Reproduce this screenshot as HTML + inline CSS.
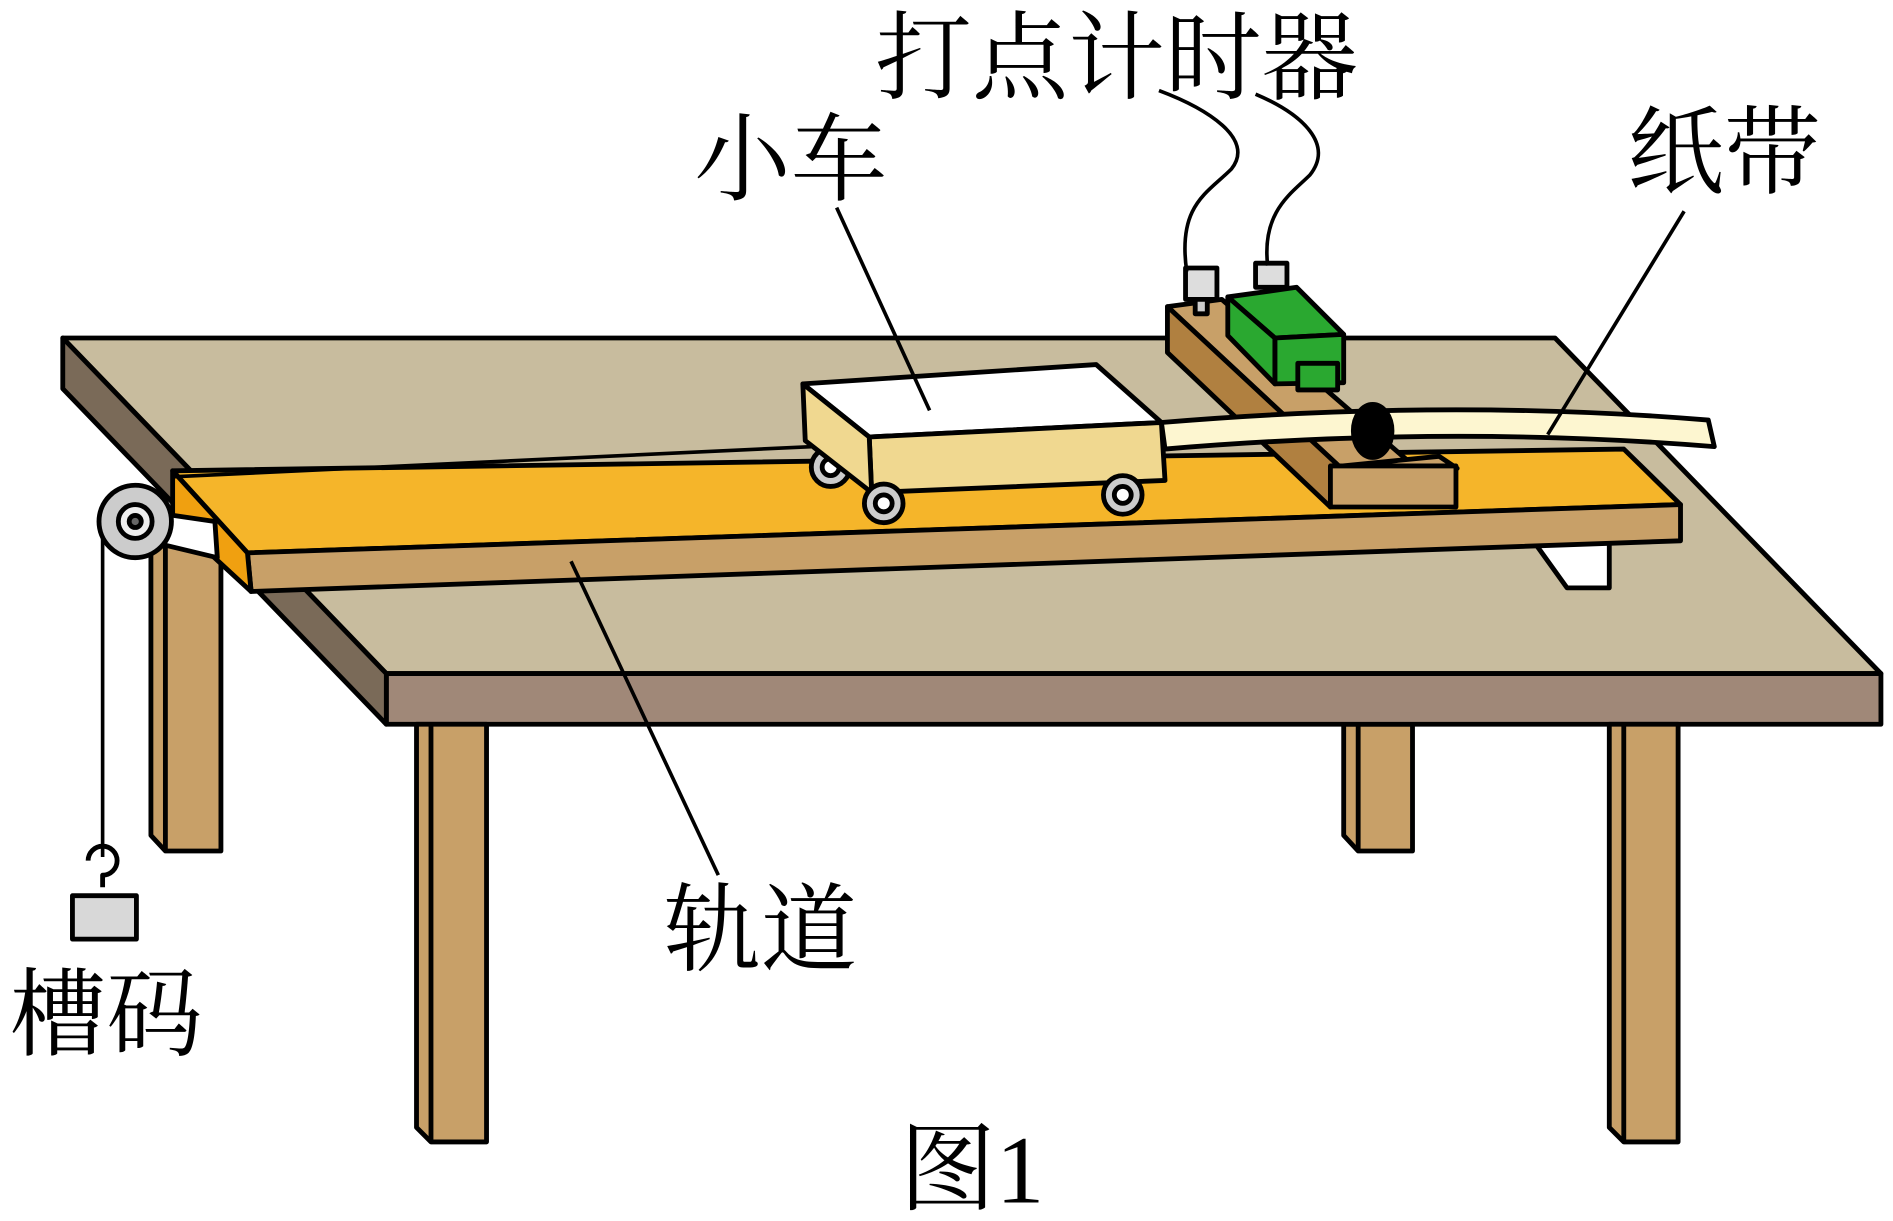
<!DOCTYPE html>
<html><head><meta charset="utf-8"><style>html,body{margin:0;padding:0;background:#fff}svg{display:block}</style></head>
<body>
<svg width="1893" height="1221" viewBox="0 0 1568 1011.5" preserveAspectRatio="none" xmlns="http://www.w3.org/2000/svg">
<g stroke="#000" stroke-width="4" stroke-linejoin="round">
<polygon points="125,440 183,440 183,705 137,705 125,692" fill="#c8a068"/>
<line x1="137" y1="440" x2="137" y2="705"/>
<polygon points="1113,600 1170,600 1170,705 1125,705 1113,692" fill="#c8a068"/>
<line x1="1125" y1="600" x2="1125" y2="705"/>
<polygon points="52,280 1288,280 1558,558 320,558" fill="#c8bc9e"/>
<polygon points="320,558 1558,558 1558,600 320,600" fill="#a08878"/>
<polygon points="52,280 320,558 320,600 52,322" fill="#7a6a58"/>
<polygon points="345,600 403,600 403,946 357,946 345,934" fill="#c8a068"/>
<line x1="357" y1="600" x2="357" y2="946"/>
<polygon points="1333,600 1390,600 1390,946 1345,946 1333,934" fill="#c8a068"/>
<line x1="1345" y1="600" x2="1345" y2="946"/>
<polygon points="1270,448 1333,448 1333,487 1298,487" fill="#fff"/>
<polygon points="143,390 1345,372 1392,418 205,458" fill="#f5b52a"/>
<polygon points="205,458 1392,418 1392,448 208,490" fill="#c8a068"/>
<polygon points="143,390 205,458 208,490 143,430" fill="#f0a010"/>
<polygon points="130,425 178,432 180,462 130,450" fill="#fff"/>
<line x1="672" y1="370" x2="143" y2="395" stroke-width="3"/>
<line x1="85" y1="432" x2="85" y2="710" stroke-width="3"/>
<circle cx="112" cy="432" r="30" fill="#ccc"/>
<circle cx="112" cy="432" r="14" fill="#eee"/>
<circle cx="112" cy="432" r="5" fill="#666"/>
<path d="M85,735 L85,725 A12,12 0 1 0 73,713" fill="none" stroke-width="4"/>
<rect x="60" y="742" width="53" height="36" fill="#d8d8d8"/>
<!-- timer base bar -->
<polygon points="967,254 1012,248 1170,385 1110,387" fill="#c8a068"/>
<polygon points="967,254 1110,387 1102,420 967,292" fill="#b08040"/>
<!-- block -->
<polygon points="1102,387 1192,378 1207,388 1102,392" fill="#c8a068"/>
<rect x="1102" y="386" width="104" height="34" fill="#c8a068"/>
<!-- knobs -->
<rect x="982" y="222" width="26" height="26" fill="#ddd"/>
<rect x="990" y="248" width="10" height="12" fill="#ccc"/>
<rect x="1040" y="218" width="26" height="20" fill="#ddd"/>
<!-- green box -->
<polygon points="1017,246 1074,238 1113,277 1056,280" fill="#2aa830"/>
<polygon points="1056,280 1113,277 1113,317 1056,318" fill="#2aa830"/>
<polygon points="1017,246 1056,280 1056,318 1017,278" fill="#2aa830"/>
<rect x="1075" y="301" width="33" height="22" fill="#2aa830"/>
<!-- paper tape -->
<path d="M962,350 Q1200,330 1415,348 L1420,370 Q1200,352 965,372 Z" fill="#fdf6d0"/>
<ellipse cx="1137" cy="357" rx="16" ry="22" fill="#000"/>
<!-- cart -->
<circle cx="688" cy="387" r="16" fill="#ccc"/><circle cx="688" cy="387" r="7" fill="#fff"/>
<polygon points="665,318 908,302 962,350 720,362" fill="#fff"/>
<polygon points="720,362 962,350 965,398 722,408" fill="#f0d890"/>
<polygon points="665,318 720,362 722,408 667,365" fill="#f0d890"/>
<circle cx="732" cy="417" r="16" fill="#ccc"/><circle cx="732" cy="417" r="7" fill="#fff"/>
<circle cx="930" cy="410" r="16" fill="#ccc"/><circle cx="930" cy="410" r="7" fill="#fff"/>
<path d="M983,225 C975,170 1000,160 1020,140 C1040,115 1000,90 960,75" fill="none" stroke-width="3"/>
<path d="M1050,220 C1045,175 1070,160 1085,145 C1105,120 1080,95 1040,78" fill="none" stroke-width="3"/>
<line x1="693" y1="172" x2="770" y2="340" stroke-width="3"/>
<line x1="1395" y1="175" x2="1282" y2="360" stroke-width="3"/>
<line x1="473" y1="465" x2="595" y2="725" stroke-width="3"/>
</g>
<g font-family="'Liberation Serif','Noto Serif CJK SC',serif" font-size="80" fill="#000">
<text x="725" y="76">打点计时器</text>
<text x="575" y="160">小车</text>
<text x="1348" y="154">纸带</text>
<text x="550" y="798">轨道</text>
<text x="8" y="868">槽码</text>
<text x="745" y="996">图1</text>
</g>
</svg>
</body></html>
